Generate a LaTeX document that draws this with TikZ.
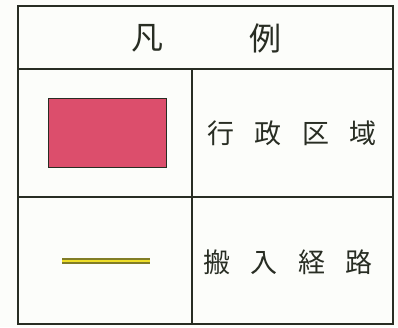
\documentclass[tikz,border=0pt]{standalone}
\usepackage{fontspec}
\newfontfamily\cjk{Noto Sans CJK JP}
\definecolor{frame}{RGB}{40,45,35}
\definecolor{crimson}{RGB}{220,78,108}
\definecolor{yel}{RGB}{238,222,40}
\definecolor{paper}{RGB}{252,253,250}
\tikzset{
  cell/.style={draw=frame, line width=1.1pt},
  label/.style={font=\cjk\fontsize{27}{27}\selectfont, text=frame, inner sep=0pt},
  title/.style={font=\cjk\fontsize{32}{32}\selectfont, text=frame, inner sep=0pt}
}
\begin{document}
\begin{tikzpicture}[x=1pt,y=-1pt]
\fill[paper] (0,0) rectangle (398,327);
\useasboundingbox (0,0) rectangle (398,327);
\coordinate (tl) at (18,6);
\coordinate (br) at (393,324);
\draw[cell, line width=1.6pt] (tl) rectangle (br);
\draw[cell] (18,69) -- (393,69);
\draw[cell] (18,197) -- (393,197);
\draw[cell] (192,69) -- (192,324);
\node[title] (t1) at (147,38) {凡};
\node[title] (t2) at (265,38) {例};
\node[draw=frame, line width=1pt, fill=crimson, minimum width=118pt, minimum height=69pt, inner sep=0pt] (area) at (107,133) {};
\node[label] (l1) at (292,133) {行\hspace{0.75em}政\hspace{0.75em}区\hspace{0.75em}域};
\draw[draw=frame!55!yel, line width=6pt] (62,261) coordinate (r1) -- (150,261) coordinate (r2);
\draw[yel, line width=2.4pt] (r1) -- (r2);
\node[label] (l2) at (288,262) {搬\hspace{0.75em}入\hspace{0.75em}経\hspace{0.75em}路};
\end{tikzpicture}
\end{document}
